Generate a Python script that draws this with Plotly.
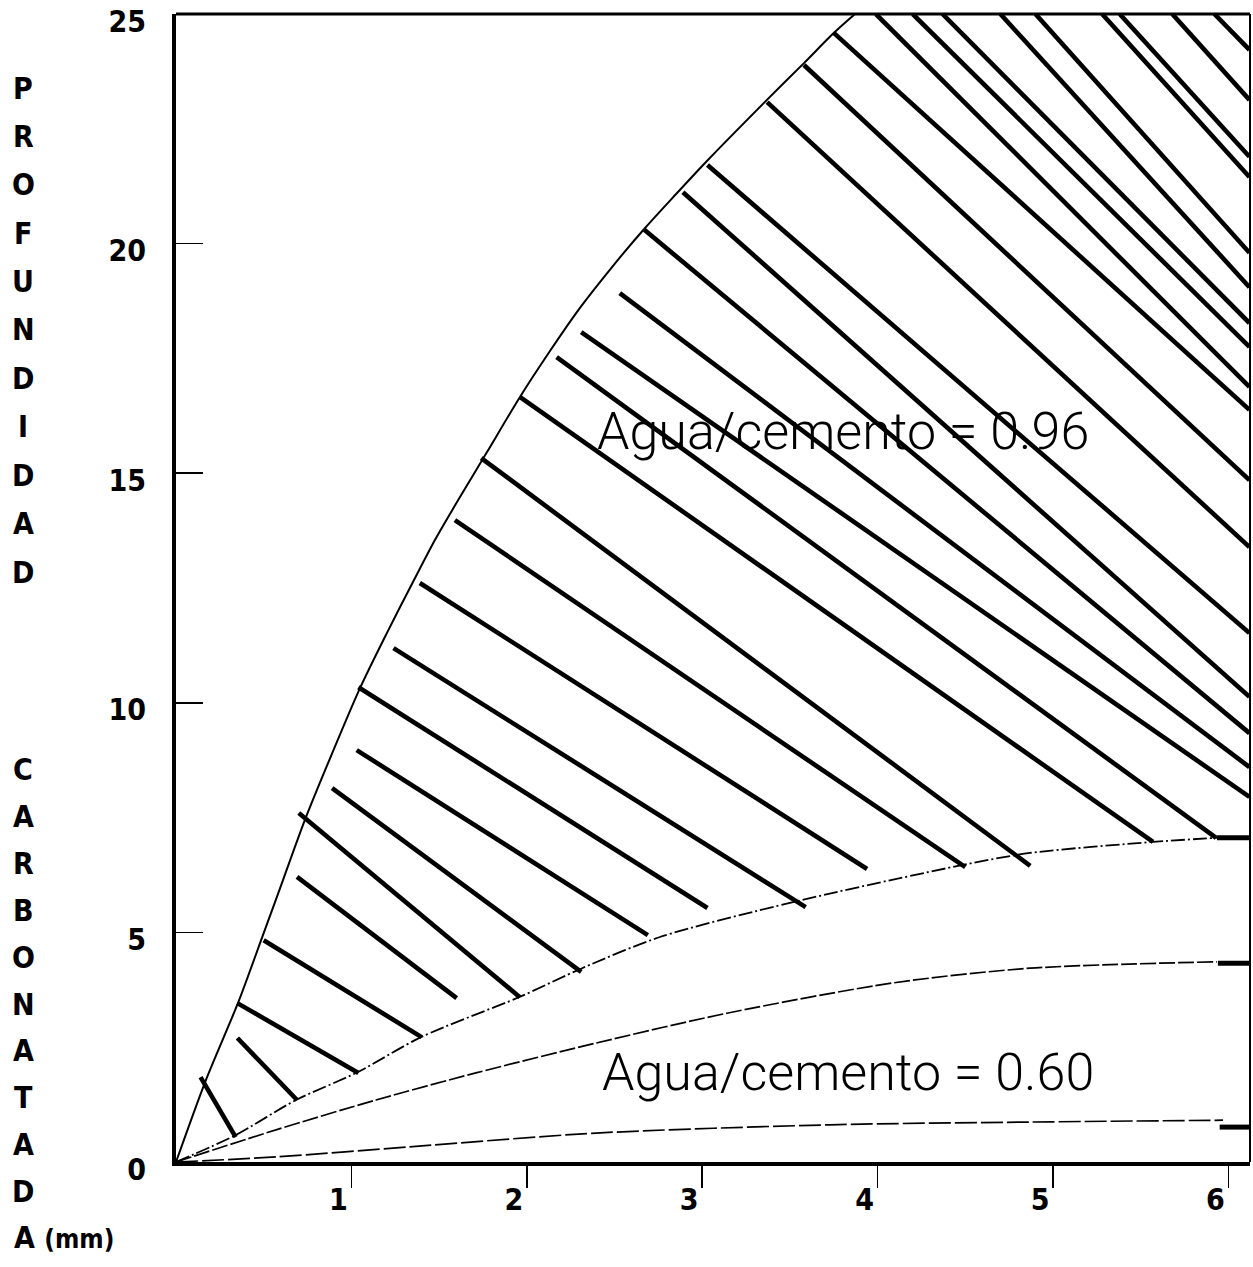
import plotly.graph_objects as go

# ---------------- data ----------------
# upper boundary of the w/c = 0.96 band
upper_x = [0, 0.171, 0.353, 0.490, 0.610, 0.735, 0.889, 1.049, 1.197, 1.351, 1.477, 1.619,
           1.773, 1.961, 2.132, 2.303, 2.486, 2.674, 2.851, 3.027, 3.369, 3.580, 3.751, 3.871]
upper_y = [0, 1.79, 3.46, 4.88, 6.14, 7.45, 8.89, 10.32, 11.48, 12.63, 13.55, 14.48,
           15.46, 16.66, 17.66, 18.60, 19.49, 20.34, 21.08, 21.80, 23.13, 23.93, 24.59, 25.0]

# lower boundary of the w/c = 0.96 band (dash-dot)
lower96_x = [0, 0.342, 0.684, 1.038, 1.397, 1.956, 2.315, 2.759, 3.518, 4.487, 4.869, 5.570, 5.935]
lower96_y = [0, 0.59, 1.35, 1.96, 2.72, 3.59, 4.22, 4.90, 5.66, 6.47, 6.73, 6.97, 7.06]

# upper curve of the w/c = 0.60 band
upper60_x = [0, 0.570, 1.140, 1.710, 2.395, 3.141, 4.088, 4.869, 5.935]
upper60_y = [0, 0.70, 1.35, 1.94, 2.59, 3.24, 3.90, 4.22, 4.36]

# lower curve of the w/c = 0.60 band
lower60_x = [0, 0.570, 1.328, 2.395, 3.729, 4.869, 5.969]
lower60_y = [0, 0.11, 0.33, 0.63, 0.81, 0.87, 0.91]

# short heavy end marks at the right edge
end_x0 = [5.935, 5.94, 5.95]
end_x1 = [6.123, 6.123, 6.123]
end_y = [7.06, 4.33, 0.76]

# hatch segments (start -> end)
hatch_x0 = [0.14, 0.35, 0.35, 0.50, 0.69, 0.70, 0.89, 1.03, 1.04, 1.24, 1.39, 1.59, 1.74,
            1.96, 2.17, 2.31, 2.53, 2.67, 2.89, 3.03, 3.37, 3.58, 3.75, 3.99, 4.20,
            4.37, 4.70, 4.90, 5.28, 5.38, 5.68, 5.92]
hatch_y0 = [1.85, 2.70, 3.46, 4.83, 6.21, 7.60, 8.14, 8.97, 10.34, 11.19, 12.61, 13.98, 15.33,
            16.66, 17.53, 18.07, 18.92, 20.30, 21.12, 21.71, 23.08, 23.89, 24.59, 25.0, 25.0,
            25.0, 25.0, 25.0, 25.0, 25.0, 25.0, 25.0]
hatch_x1 = [0.34, 0.69, 1.04, 1.40, 1.60, 1.96, 2.31, 2.69, 3.03, 3.59, 3.94, 4.50, 4.87,
            5.57, 5.93, 6.12, 6.12, 6.12, 6.12, 6.12, 6.12, 6.12, 6.12, 6.12, 6.12,
            6.12, 6.12, 6.12, 6.12, 6.12, 6.12, 6.12]
hatch_y1 = [0.54, 1.35, 1.94, 2.72, 3.57, 3.59, 4.14, 4.94, 5.53, 5.55, 6.38, 6.42, 6.45,
            6.97, 7.06, 7.95, 8.60, 9.34, 10.13, 11.52, 13.39, 14.85, 16.38, 16.88, 17.75,
            18.27, 19.05, 19.80, 21.45, 21.89, 23.13, 24.22]

x_ticks = [1, 2, 3, 4, 5, 6]
y_ticks = [0, 5, 10, 15, 20, 25]

title_top = "PROFUNDIDAD"
title_bottom = ["C", "A", "R", "B", "O", "N", "A", "T", "A", "D", "A (mm)"]

label_96 = "Agua/cemento = 0.96"
label_60 = "Agua/cemento = 0.60"
label_96_pos = (3.80, 15.90)
label_60_pos = (3.83, 1.94)

# ---------------- figure ----------------
W, H = 1253, 1267
ML, MR, MT, MB = 176, 3, 14, 105
PH = H - MT - MB
PW = W - ML - MR

BOLD_NARROW = "Liberation Sans Narrow, DejaVu Sans Condensed, Arial Narrow, sans-serif"
LIGHT = "Roboto, Liberation Sans, Arial, Helvetica, sans-serif"

fig = go.Figure()

hx, hy = [], []
for a, b, c, d in zip(hatch_x0, hatch_y0, hatch_x1, hatch_y1):
    hx += [a, c, None]
    hy += [b, d, None]
fig.add_trace(go.Scatter(x=hx, y=hy, mode="lines",
                         line=dict(color="black", width=4.6), hoverinfo="skip"))

fig.add_trace(go.Scatter(x=upper_x, y=upper_y, mode="lines",
                         line=dict(color="black", width=2, shape="spline", smoothing=0.8),
                         hoverinfo="skip"))
fig.add_trace(go.Scatter(x=lower96_x, y=lower96_y, mode="lines",
                         line=dict(color="black", width=1.8, dash="14px,3px,2px,3px",
                                   shape="spline", smoothing=0.8),
                         hoverinfo="skip"))
fig.add_trace(go.Scatter(x=upper60_x, y=upper60_y, mode="lines",
                         line=dict(color="black", width=1.7, dash="16px,3px",
                                   shape="spline", smoothing=0.8),
                         hoverinfo="skip"))
fig.add_trace(go.Scatter(x=lower60_x, y=lower60_y, mode="lines",
                         line=dict(color="black", width=1.7, dash="22px,4px",
                                   shape="spline", smoothing=0.8),
                         hoverinfo="skip"))

ex, ey = [], []
for a, b, c in zip(end_x0, end_x1, end_y):
    ex += [a, b, None]
    ey += [c, c, None]
fig.add_trace(go.Scatter(x=ex, y=ey, mode="lines",
                         line=dict(color="black", width=5), hoverinfo="skip"))

annotations = []
# stacked vertical axis title
tfont = dict(family=BOLD_NARROW, size=30, color="black", weight="bold")
for i, ch in enumerate(title_top):
    py = 88 + i * 48.4
    annotations.append(dict(text=ch, xref="paper", yref="paper",
                            x=(23 - ML) / PW, y=(H - MB - py) / PH,
                            xanchor="center", yanchor="middle", showarrow=False,
                            font=tfont))
for i, ch in enumerate(title_bottom):
    py = 770 + i * 46.8
    if len(ch) > 1:
        head, tail = ch.split(" ", 1)
        annotations.append(dict(text=head + " <span style='font-size:26px'>" + tail + "</span>",
                                xref="paper", yref="paper",
                                x=(12 - ML) / PW, y=(H - MB - py) / PH,
                                xanchor="left", yanchor="middle", showarrow=False,
                                font=tfont))
    else:
        annotations.append(dict(text=ch, xref="paper", yref="paper",
                                x=(23 - ML) / PW, y=(H - MB - py) / PH,
                                xanchor="center", yanchor="middle", showarrow=False,
                                font=tfont))

lfont = dict(family=LIGHT, size=52, color="black", weight=300)
annotations.append(dict(text=label_96, x=label_96_pos[0], y=label_96_pos[1],
                        xref="x", yref="y", showarrow=False, font=lfont))
annotations.append(dict(text=label_60, x=label_60_pos[0], y=label_60_pos[1],
                        xref="x", yref="y", showarrow=False, font=lfont))

fig.update_layout(
    width=W, height=H,
    margin=dict(l=ML, r=MR, t=MT, b=MB, pad=0),
    paper_bgcolor="white", plot_bgcolor="white",
    showlegend=False,
    annotations=annotations,
    xaxis=dict(range=[0, 6.123], showgrid=False, zeroline=False,
               showline=True, linewidth=4, linecolor="black",
               ticks="outside", ticklen=22, tickwidth=1.5, tickcolor="black",
               tickvals=x_ticks, ticklabelstandoff=-14, ticklabelshift=-13,
               tickfont=dict(family=BOLD_NARROW, size=30, color="black", weight="bold"),
               fixedrange=True),
    yaxis=dict(range=[0, 25], showgrid=False, zeroline=False,
               showline=True, linewidth=4, linecolor="black",
               ticks="inside", ticklen=27, tickwidth=1.5, tickcolor="black",
               tickvals=y_ticks, ticklabelstandoff=20, ticklabelshift=7,
               ticklabeloverflow="allow",
               tickfont=dict(family=BOLD_NARROW, size=30, color="black", weight="bold"),
               fixedrange=True),
    shapes=[
        dict(type="line", xref="paper", yref="paper", x0=0, x1=1, y0=1, y1=1,
             line=dict(color="black", width=3)),
        dict(type="line", xref="paper", yref="paper", x0=1, x1=1, y0=0, y1=1,
             line=dict(color="black", width=2)),
    ],
)

fig.write_html("out.html",
               config={"displayModeBar": False, "staticPlot": True},
               post_script="document.body.style.margin='0';document.body.style.overflow='hidden';")
